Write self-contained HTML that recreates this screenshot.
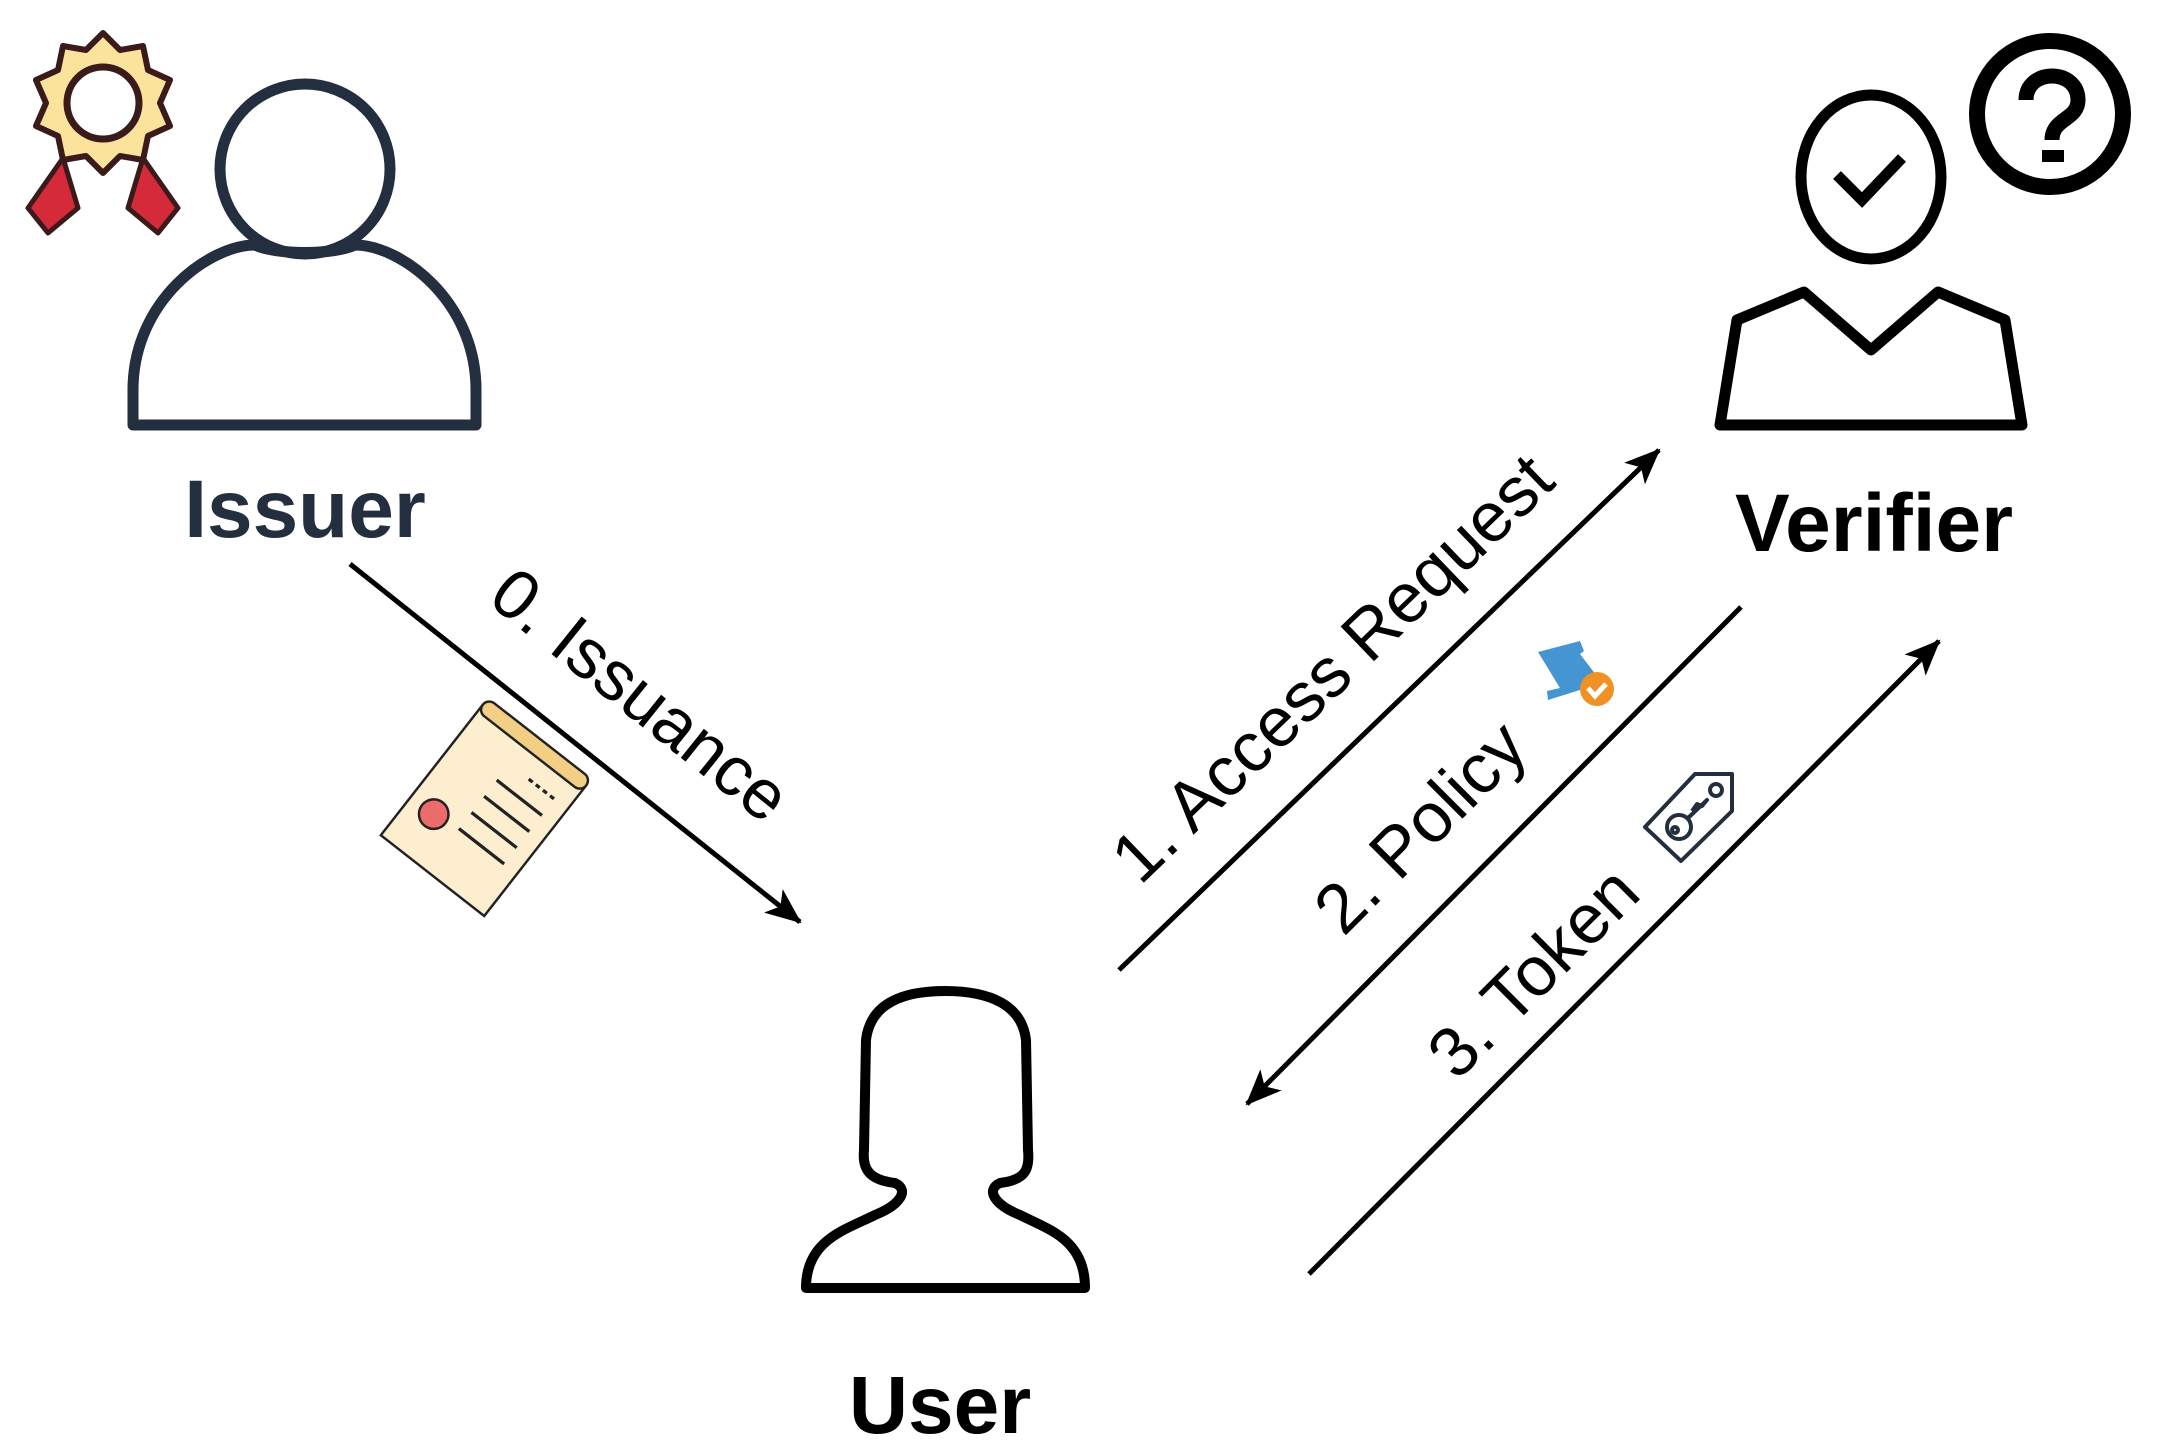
<!DOCTYPE html>
<html><head><style>
html,body{margin:0;padding:0;background:#fff;}
svg{display:block;}
text{font-family:"Liberation Sans",sans-serif;}
</style></head><body>
<svg width="2160" height="1448" viewBox="0 0 2160 1448" xmlns="http://www.w3.org/2000/svg">
<defs>
<marker id="ah" markerWidth="36" markerHeight="30" refX="34" refY="15" orient="auto" markerUnits="userSpaceOnUse" viewBox="0 0 36 30">
<path d="M0,0 L36,15 L0,30 L9,15 z" fill="#000"/>
</marker>
</defs>
<!-- Award -->
<g transform="translate(28,28)">
<path d="M50,180 L20,205 L0,180 L35,130 Z" fill="#d42a3a" stroke="#3a1a1a" stroke-width="5" stroke-linejoin="round"/>
<path d="M100,180 L130,205 L150,180 L115,130 Z" fill="#d42a3a" stroke="#3a1a1a" stroke-width="5" stroke-linejoin="round"/>
<path d="M75,5 L92,22 L115,18 L120,42 L142,52 L132,75 L142,98 L120,108 L115,132 L92,128 L75,145 L58,128 L35,132 L30,108 L8,98 L18,75 L8,52 L30,42 L35,18 L58,22 Z" fill="#fbe39b" stroke="#3a1a1a" stroke-width="6" stroke-linejoin="round"/>
<circle cx="75" cy="75" r="36" fill="#fff" stroke="#3a1a1a" stroke-width="7"/>
</g>
<!-- Issuer -->
<circle cx="305" cy="169" r="85" fill="none" stroke="#232f3e" stroke-width="11"/>
<path d="M133,425 L133,390 C133,300 210,245 255,245 C275,255 335,255 355,245 C400,245 476,300 476,390 L476,425 Z" fill="none" stroke="#232f3e" stroke-width="11" stroke-linejoin="round"/>
<text x="305" y="537" font-size="82" font-weight="bold" fill="#232f3e" text-anchor="middle">Issuer</text>
<!-- Verifier -->
<g transform="translate(-8,0)">
<ellipse cx="1879" cy="177" rx="70" ry="82" fill="none" stroke="#000" stroke-width="11"/>
<path d="M1845,175 L1870,200 L1910,158" fill="none" stroke="#000" stroke-width="11"/>
<path d="M1728,425 L1745,320 L1812,292 L1879,350 L1946,292 L2013,320 L2030,425 Z" fill="none" stroke="#000" stroke-width="11" stroke-linejoin="round"/>
</g>
<g transform="translate(-10,0)">
<circle cx="2060" cy="114" r="73" fill="none" stroke="#000" stroke-width="16"/>
<path d="M2036,100 C2036,68 2088,68 2088,100 C2088,120 2062,118 2062,140" fill="none" stroke="#000" stroke-width="15"/>
<rect x="2052" y="150" width="22" height="12" fill="#000"/>
</g>
<text x="1874" y="551" font-size="82" font-weight="bold" fill="#000" text-anchor="middle">Verifier</text>
<!-- User -->
<path d="M806,1288 L1085,1288 C1085,1240 1050,1230 1020,1215 C995,1205 985,1190 1000,1183 C1025,1180 1030,1170 1028,1150 L1026,1040 C1022,1005 990,991 945,991 C900,991 870,1005 866,1040 L864,1150 C862,1170 870,1180 895,1183 C910,1190 900,1205 875,1215 C845,1230 806,1240 806,1288 Z" fill="none" stroke="#000" stroke-width="10" stroke-linejoin="round"/>
<text x="940" y="1433" font-size="82" font-weight="bold" fill="#000" text-anchor="middle">User</text>
<!-- Certificate -->
<g transform="translate(483,811) rotate(38) scale(0.82)">
<rect x="-80" y="-100" width="160" height="200" fill="#fdeed0" stroke="#222" stroke-width="3"/>
<rect x="-80" y="-112" width="160" height="20" rx="10" fill="#f3cf85" stroke="#222" stroke-width="3"/>
<circle cx="-45" cy="40" r="18" fill="#ee6b6b" stroke="#222" stroke-width="3"/>
<line x1="-10" y1="-40" x2="60" y2="-40" stroke="#222" stroke-width="4"/>
<line x1="-10" y1="-15" x2="60" y2="-15" stroke="#222" stroke-width="4"/>
<line x1="-10" y1="10" x2="60" y2="10" stroke="#222" stroke-width="4"/>
<line x1="-10" y1="35" x2="60" y2="35" stroke="#222" stroke-width="4"/>
<line x1="20" y1="-65" x2="60" y2="-65" stroke="#222" stroke-width="4" stroke-dasharray="6,5"/>
</g>
<!-- Arrows -->
<line x1="350" y1="564" x2="800" y2="922" stroke="#000" stroke-width="5" marker-end="url(#ah)"/>
<line x1="1119" y1="970" x2="1659" y2="450" stroke="#000" stroke-width="5" marker-end="url(#ah)"/>
<line x1="1741" y1="607" x2="1247" y2="1104" stroke="#000" stroke-width="5" marker-end="url(#ah)"/>
<line x1="1309" y1="1274" x2="1939" y2="641" stroke="#000" stroke-width="5" marker-end="url(#ah)"/>
<!-- Labels -->
<text transform="translate(637,699) rotate(38.7)" font-size="70" text-anchor="middle" dominant-baseline="middle">0. Issuance</text>
<text transform="translate(1336,672) rotate(-43.9)" font-size="70" text-anchor="middle" dominant-baseline="middle">1. Access Request</text>
<text transform="translate(1424,831) rotate(-45)" font-size="70" text-anchor="middle" dominant-baseline="middle">2. Policy</text>
<text transform="translate(1537,976) rotate(-45)" font-size="70" text-anchor="middle" dominant-baseline="middle">3. Token</text>
<!-- Policy icon -->
<path d="M1538,652 L1580,641 L1584,651 L1580,654 L1596,675 L1580,690 L1548,700 L1547,691 L1560,688 Z" fill="#4595d2"/>
<circle cx="1597" cy="689" r="17" fill="#ef9124"/>
<path d="M1588,688 L1595,696 L1606,684" fill="none" stroke="#fff" stroke-width="5"/>
<!-- Key tag -->
<g fill="none" stroke="#232f3e" stroke-width="4" stroke-linejoin="round">
<path d="M1695,774 L1732,774 L1732,811 L1681,861 L1645,827 Z"/>
<circle cx="1716" cy="790" r="6"/>
<circle cx="1679" cy="827" r="12"/>
<circle cx="1675" cy="830" r="3"/>
<path d="M1688,818 L1707,800 L1702,806 L1697,804 L1692,811"/>
</g>
</svg>
</body></html>
